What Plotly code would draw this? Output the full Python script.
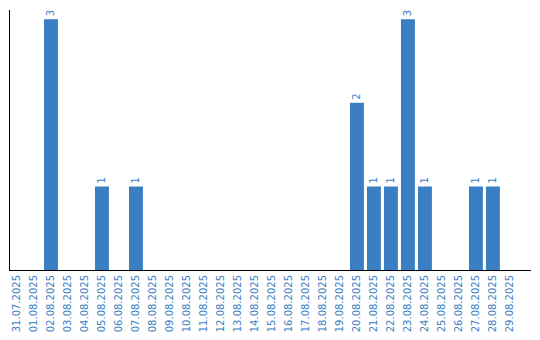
import plotly.graph_objects as go

dates = ["31.07.2025","01.08.2025","02.08.2025","03.08.2025","04.08.2025","05.08.2025",
         "06.08.2025","07.08.2025","08.08.2025","09.08.2025","10.08.2025","11.08.2025",
         "12.08.2025","13.08.2025","14.08.2025","15.08.2025","16.08.2025","17.08.2025",
         "18.08.2025","19.08.2025","20.08.2025","21.08.2025","22.08.2025","23.08.2025",
         "24.08.2025","25.08.2025","26.08.2025","27.08.2025","28.08.2025","29.08.2025"]
counts = [0,0,3,0,0,1,0,1,0,0,0,0,0,0,0,0,0,0,0,0,2,1,1,3,1,0,0,1,1,0]

blue = "#3a7ec4"
labels = [str(v) if v else "" for v in counts]

fig = go.Figure(go.Bar(
    x=list(range(len(dates))), y=counts, marker_color=blue, marker_line_width=0,
    text=labels, textposition="outside", textangle=-90,
    textfont=dict(family="DejaVu Sans", size=10, color=blue),
    cliponaxis=False,
))
fig.update_layout(
    width=540, height=340, margin=dict(l=10, r=9, t=10, b=70),
    paper_bgcolor="white", plot_bgcolor="white", bargap=0.18, showlegend=False,
    font=dict(family="DejaVu Sans", size=10, color=blue),
)
fig.update_xaxes(range=[-0.41, 30.24], tickmode="array", tickvals=list(range(len(dates))),
                 ticktext=dates, tickangle=-90, showgrid=False, showline=True,
                 linecolor="black", linewidth=1, ticks="", tickfont=dict(size=10, color=blue))
fig.update_yaxes(range=[0, 3.11], showgrid=False, showline=True, linecolor="black",
                 linewidth=1, showticklabels=False, ticks="", zeroline=False)
fig.write_html("out.html")
